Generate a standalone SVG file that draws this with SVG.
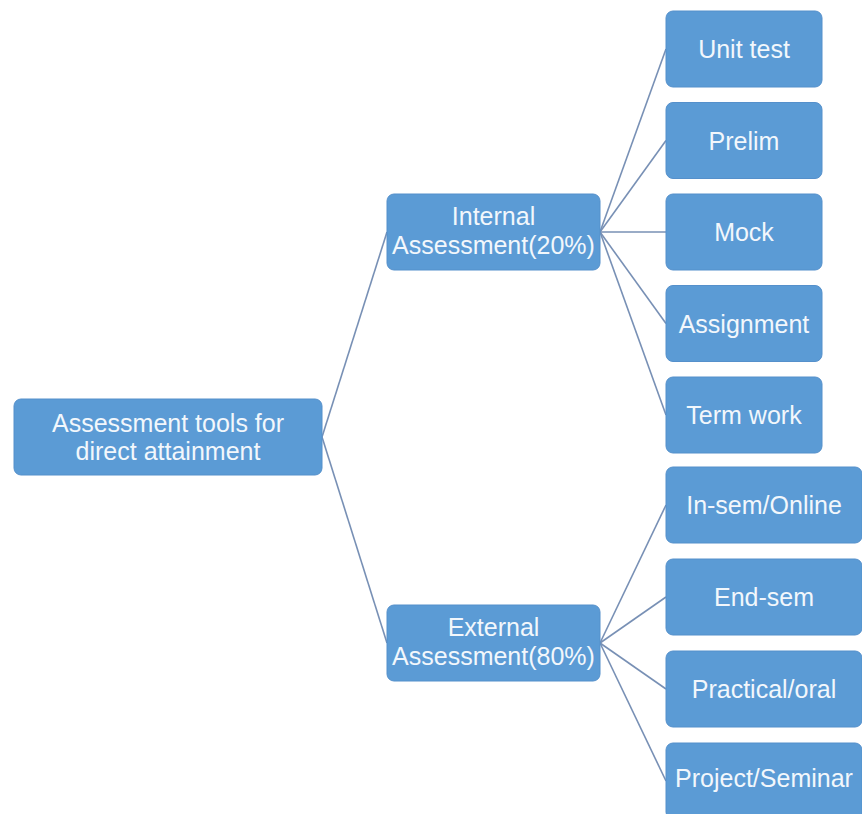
<svg xmlns="http://www.w3.org/2000/svg" width="862" height="814" viewBox="0 0 862 814">
<style>
.box{fill:#5b9bd5;stroke:#5590cb;stroke-width:1}
.t{font-family:"Liberation Sans",Arial,sans-serif;font-size:25px;fill:#f2f7fc;text-anchor:middle}
.c{stroke:#7890b5;stroke-width:1.6;fill:none}
</style>
<rect width="862" height="814" fill="#ffffff"/>
<g id="connectors">
<line class="c" x1="322" y1="437" x2="387" y2="232"/>
<line class="c" x1="322" y1="437" x2="387" y2="643"/>
<line class="c" x1="600" y1="232" x2="666" y2="49"/>
<line class="c" x1="600" y1="232" x2="666" y2="140.5"/>
<line class="c" x1="600" y1="232" x2="666" y2="232"/>
<line class="c" x1="600" y1="232" x2="666" y2="323.5"/>
<line class="c" x1="600" y1="232" x2="666" y2="415"/>
<line class="c" x1="600" y1="643" x2="666" y2="505"/>
<line class="c" x1="600" y1="643" x2="666" y2="597"/>
<line class="c" x1="600" y1="643" x2="666" y2="689"/>
<line class="c" x1="600" y1="643" x2="666" y2="781"/>
</g>
<g id="root">
<rect class="box" x="14" y="399" width="308" height="76" rx="7"/>
<text class="t" x="168" y="432">Assessment tools for</text>
<text class="t" x="168" y="460">direct attainment</text>
</g>
<g id="internal">
<rect class="box" x="387" y="194" width="213" height="76" rx="7"/>
<text class="t" x="493.5" y="225">Internal</text>
<text class="t" x="493.5" y="254">Assessment(20%)</text>
</g>
<g id="external">
<rect class="box" x="387" y="605" width="213" height="76" rx="7"/>
<text class="t" x="493.5" y="636">External</text>
<text class="t" x="493.5" y="665">Assessment(80%)</text>
</g>
<g id="unit-test">
<rect class="box" x="666" y="11" width="156" height="76" rx="7"/>
<text class="t" x="744" y="58">Unit test</text>
</g>
<g id="prelim">
<rect class="box" x="666" y="102.5" width="156" height="76" rx="7"/>
<text class="t" x="744" y="149.5">Prelim</text>
</g>
<g id="mock">
<rect class="box" x="666" y="194" width="156" height="76" rx="7"/>
<text class="t" x="744" y="241">Mock</text>
</g>
<g id="assignment">
<rect class="box" x="666" y="285.5" width="156" height="76" rx="7"/>
<text class="t" x="744" y="332.5">Assignment</text>
</g>
<g id="term-work">
<rect class="box" x="666" y="377" width="156" height="76" rx="7"/>
<text class="t" x="744" y="424">Term work</text>
</g>
<g id="in-sem">
<rect class="box" x="666" y="467" width="196" height="76" rx="7"/>
<text class="t" x="764" y="514">In-sem/Online</text>
</g>
<g id="end-sem">
<rect class="box" x="666" y="559" width="196" height="76" rx="7"/>
<text class="t" x="764" y="606">End-sem</text>
</g>
<g id="practical">
<rect class="box" x="666" y="651" width="196" height="76" rx="7"/>
<text class="t" x="764" y="698">Practical/oral</text>
</g>
<g id="project">
<rect class="box" x="666" y="743" width="196" height="76" rx="7"/>
<text class="t" x="764" y="787">Project/Seminar</text>
</g>
</svg>
